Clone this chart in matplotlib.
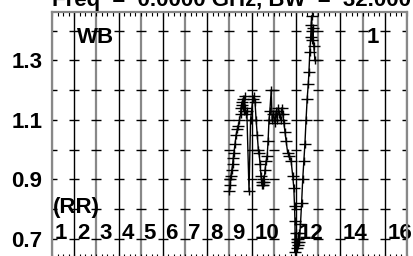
import matplotlib
matplotlib.use('Agg')
from matplotlib import pyplot as plt
from matplotlib.path import Path

plt.rcParams['font.family'] = ['Liberation Sans', 'DejaVu Sans']
plt.rcParams['font.weight'] = 'bold'

# trace
trace_x = [8.00, 8.02, 8.04, 8.06, 8.10, 8.14, 8.17, 8.20, 8.25, 8.30, 8.36, 8.40,
           8.45, 8.50, 8.52, 8.56, 8.58, 8.62, 8.66, 8.68, 8.70, 8.74, 8.78, 8.88,
           8.95, 9.05, 9.10, 9.15, 9.20, 9.25, 9.30, 9.33, 9.38, 9.42, 9.45, 9.48,
           9.50, 9.52, 9.55, 9.60, 9.65, 9.70, 9.74, 9.78, 9.82, 9.88, 9.92, 9.98,
           10.05, 10.10, 10.15, 10.20, 10.25, 10.30, 10.35, 10.40, 10.45, 10.50,
           10.55, 10.62, 10.70, 10.78, 10.85, 10.90, 10.93, 10.95, 10.96, 10.98,
           11.02, 11.05, 11.08, 11.10, 11.12, 11.15, 11.20, 11.25, 11.30, 11.35,
           11.40, 11.45, 11.50, 11.55, 11.58, 11.62, 11.66, 11.68, 11.70, 11.72,
           11.74, 11.76, 11.80, 11.85]
trace_y = [0.86, 0.88, 0.90, 0.91, 0.93, 0.95, 0.97, 0.99, 1.02, 1.05, 1.07, 1.08,
           1.10, 1.12, 1.14, 1.16, 1.15, 1.17, 1.13, 1.18, 1.14, 1.12, 1.13, 0.86,
           1.10, 1.17, 1.18, 1.16, 1.10, 1.05, 1.00, 0.99, 0.95, 0.91, 0.89, 0.88,
           0.90, 0.88, 0.89, 0.93, 0.96, 0.98, 1.03, 1.10, 1.13, 1.20, 1.10, 1.12,
           1.09, 1.13, 1.10, 1.14, 1.12, 1.10, 1.14, 1.12, 1.09, 1.06,
           1.03, 0.99, 0.98, 0.96, 0.91, 0.87, 0.81, 0.76, 0.655, 0.72,
           0.69, 0.67, 0.68, 0.70, 0.72, 0.69, 0.75, 0.82, 0.90, 0.96,
           1.02, 1.10, 1.17, 1.22, 1.26, 1.33, 1.38, 1.42, 1.45, 1.40,
           1.37, 1.41, 1.35, 1.30]

ytick_vals = [0.7, 0.9, 1.1, 1.3]
dash_levels = [0.7, 0.8, 0.9, 1.0, 1.1, 1.2, 1.3, 1.4]
chan_labels = ['1', '2', '3', '4', '5', '6', '7', '8', '9', '10', '12', '14', '16']
chan_pos = [0, 1, 2, 3, 4, 5, 6, 7, 8, 9, 11, 13, 15]

# wide plus marker
plus = Path([(-1, 0), (1, 0), (0, -0.6), (0, 0.6)],
            [Path.MOVETO, Path.LINETO, Path.MOVETO, Path.LINETO])

W, H = 414, 256
fig = plt.figure(figsize=(W / 100, H / 100), dpi=100)
ax = fig.add_axes([52 / W, -2 / H, 355 / W, 246 / H])
ax.set_xlim(0, 16)
ax.set_ylim(0.635, 1.463)

# vertical grid, black and gray alternating
for k in range(17):
    c = 'black' if k % 2 else '#888888'
    ax.axvline(k, color=c, lw=1.0 if k % 2 else 1.6, zorder=1)
    ax.plot([k] * len(dash_levels), dash_levels, ls='none', marker='_',
            ms=7, mew=1.0, color='black', zorder=1)

ax.plot(trace_x, trace_y, color='black', lw=1.0, marker=plus, ms=9, mew=1.0, zorder=3)

for s in ax.spines.values():
    s.set_color('#888888')
    s.set_linewidth(1.6)

ax.set_yticks(ytick_vals)
ax.set_yticklabels([f'{v:.1f}' for v in ytick_vals], fontsize=16, fontweight='bold')
ax.tick_params(axis='y', length=0, pad=7)
ax.set_xticks(range(17))
ax.set_xticks([i / 4 for i in range(65)], minor=True)
ax.tick_params(axis='x', which='both', direction='in', top=True, bottom=True,
               labelbottom=False, length=3, width=0.8)

for lab, p in zip(chan_labels, chan_pos):
    ax.text(p + 0.12, 0.7, lab, fontsize=16, fontweight='bold', va='baseline', ha='left', zorder=2)
ax.text(0.02, 0.787, '(RR)', fontsize=16, fontweight='bold', va='baseline', ha='left', zorder=2)
ax.text(1.12, 1.358, 'WB', fontsize=16, fontweight='bold', va='baseline', ha='left', zorder=2)
ax.text(14.2, 1.358, '1', fontsize=16, fontweight='bold', va='baseline', ha='left', zorder=2)

fig.text(52 / W, 1 - 6 / H, 'Freq  =  0.0000 GHz, BW  =  32.000 MHz', fontsize=16,
         fontweight='bold', ha='left', va='baseline')

fig.savefig('out.png', dpi=100)
